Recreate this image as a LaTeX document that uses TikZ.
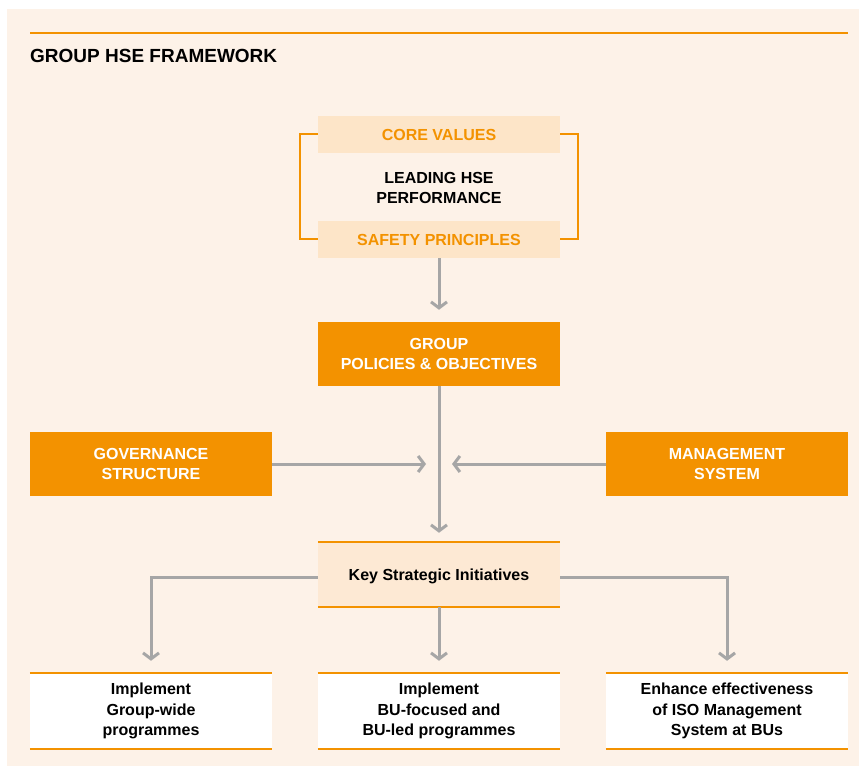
\documentclass[tikz,border=0pt]{standalone}
\usepackage{fontspec}
\setmainfont{Liberation Sans}
\usetikzlibrary{arrows.meta}
\definecolor{bgcream}{HTML}{FDF2E8}
\definecolor{peach}{HTML}{FDE5C8}
\definecolor{keyfill}{HTML}{FDE9D4}
\definecolor{orng}{HTML}{F39200}
\definecolor{grayln}{HTML}{A6A6A6}
\begin{document}
\begin{tikzpicture}[x=1pt,y=-1pt,
  boxfont/.style={font=\bfseries\fontsize{16}{20.5}\selectfont},
  darkbox/.style={boxfont, fill=orng, text=white, minimum width=242pt, minimum height=64pt, inner sep=0pt, align=center},
  peachbar/.style={boxfont, fill=peach, text=orng, minimum width=242pt, minimum height=37pt, inner sep=0pt, align=center},
  keybox/.style={boxfont, fill=keyfill, text=black, minimum width=242pt, minimum height=65pt, inner sep=0pt, align=center},
  whitebox/.style={boxfont, fill=white, text=black, minimum width=242pt, minimum height=76pt, inner sep=0pt, align=center},
  rule/.style={draw=orng, line width=2pt},
  conn/.style={draw=grayln, line width=3pt, -{Straight Barb[length=6pt,width=16pt]}}
]
\useasboundingbox (0,0) rectangle (859,767);
\fill[bgcream] (7,9) rectangle (859,766);

% title
\coordinate (tl) at (30,33);
\coordinate (tr) at (848,33);
\draw[rule] (tl) -- (tr);
\node[anchor=base west, inner sep=0pt, font=\bfseries\fontsize{19}{22}\selectfont] (title) at (30,63) {GROUP HSE FRAMEWORK};

% core block
\node[peachbar] (core) at (439,134.5) {CORE VALUES};
\node[peachbar] (safety) at (439,239.5) {SAFETY PRINCIPLES};
\node[boxfont, align=center, inner sep=0pt] (leading) at (439,188) {LEADING HSE\\PERFORMANCE};
\draw[rule] (core.west) -- ++(-18,0) |- (safety.west);
\draw[rule] (core.east) -- ++(18,0) |- (safety.east);

% group
\node[darkbox] (group) at (439,354) {GROUP\\POLICIES \& OBJECTIVES};
\draw[conn, shorten >=12pt] (safety.south) -- (group.north);

% side boxes
\node[darkbox] (gov) at (151,464) {GOVERNANCE\\STRUCTURE};
\node[darkbox] (mgmt) at (727,464) {MANAGEMENT\\SYSTEM};
\coordinate (hub) at (439,464);

% key
\node[keybox, text height=16pt, text depth=3.5pt] (key) at (439,574.5) {Key Strategic Initiatives};
\draw[rule] (key.north west) -- (key.north east);
\draw[rule] (key.south west) -- (key.south east);

\draw[draw=grayln, line width=3pt] (group.south) -- (hub);
\draw[conn, shorten >=9pt] (hub) -- (key.north);
\draw[conn, shorten >=13pt] (gov.east) -- (hub);
\draw[conn, shorten >=13pt] (mgmt.west) -- (hub);

% bottom boxes
\node[whitebox] (b1) at (151,711) {Implement\\Group-wide\\programmes};
\node[whitebox] (b2) at (439,711) {Implement\\BU-focused and\\BU-led programmes};
\node[whitebox] (b3) at (727,711) {Enhance effectiveness\\of ISO Management\\System at BUs};
\foreach \b in {b1,b2,b3}{
  \draw[rule] (\b.north west) -- (\b.north east);
  \draw[rule] (\b.south west) -- (\b.south east);
}

\draw[conn, shorten >=12pt] ([yshift=-2.5pt]key.west) -| (b1.north);
\draw[conn, shorten >=12pt] (key.south) -- (b2.north);
\draw[conn, shorten >=12pt] ([yshift=-2.5pt]key.east) -| (b3.north);
\end{tikzpicture}
\end{document}
